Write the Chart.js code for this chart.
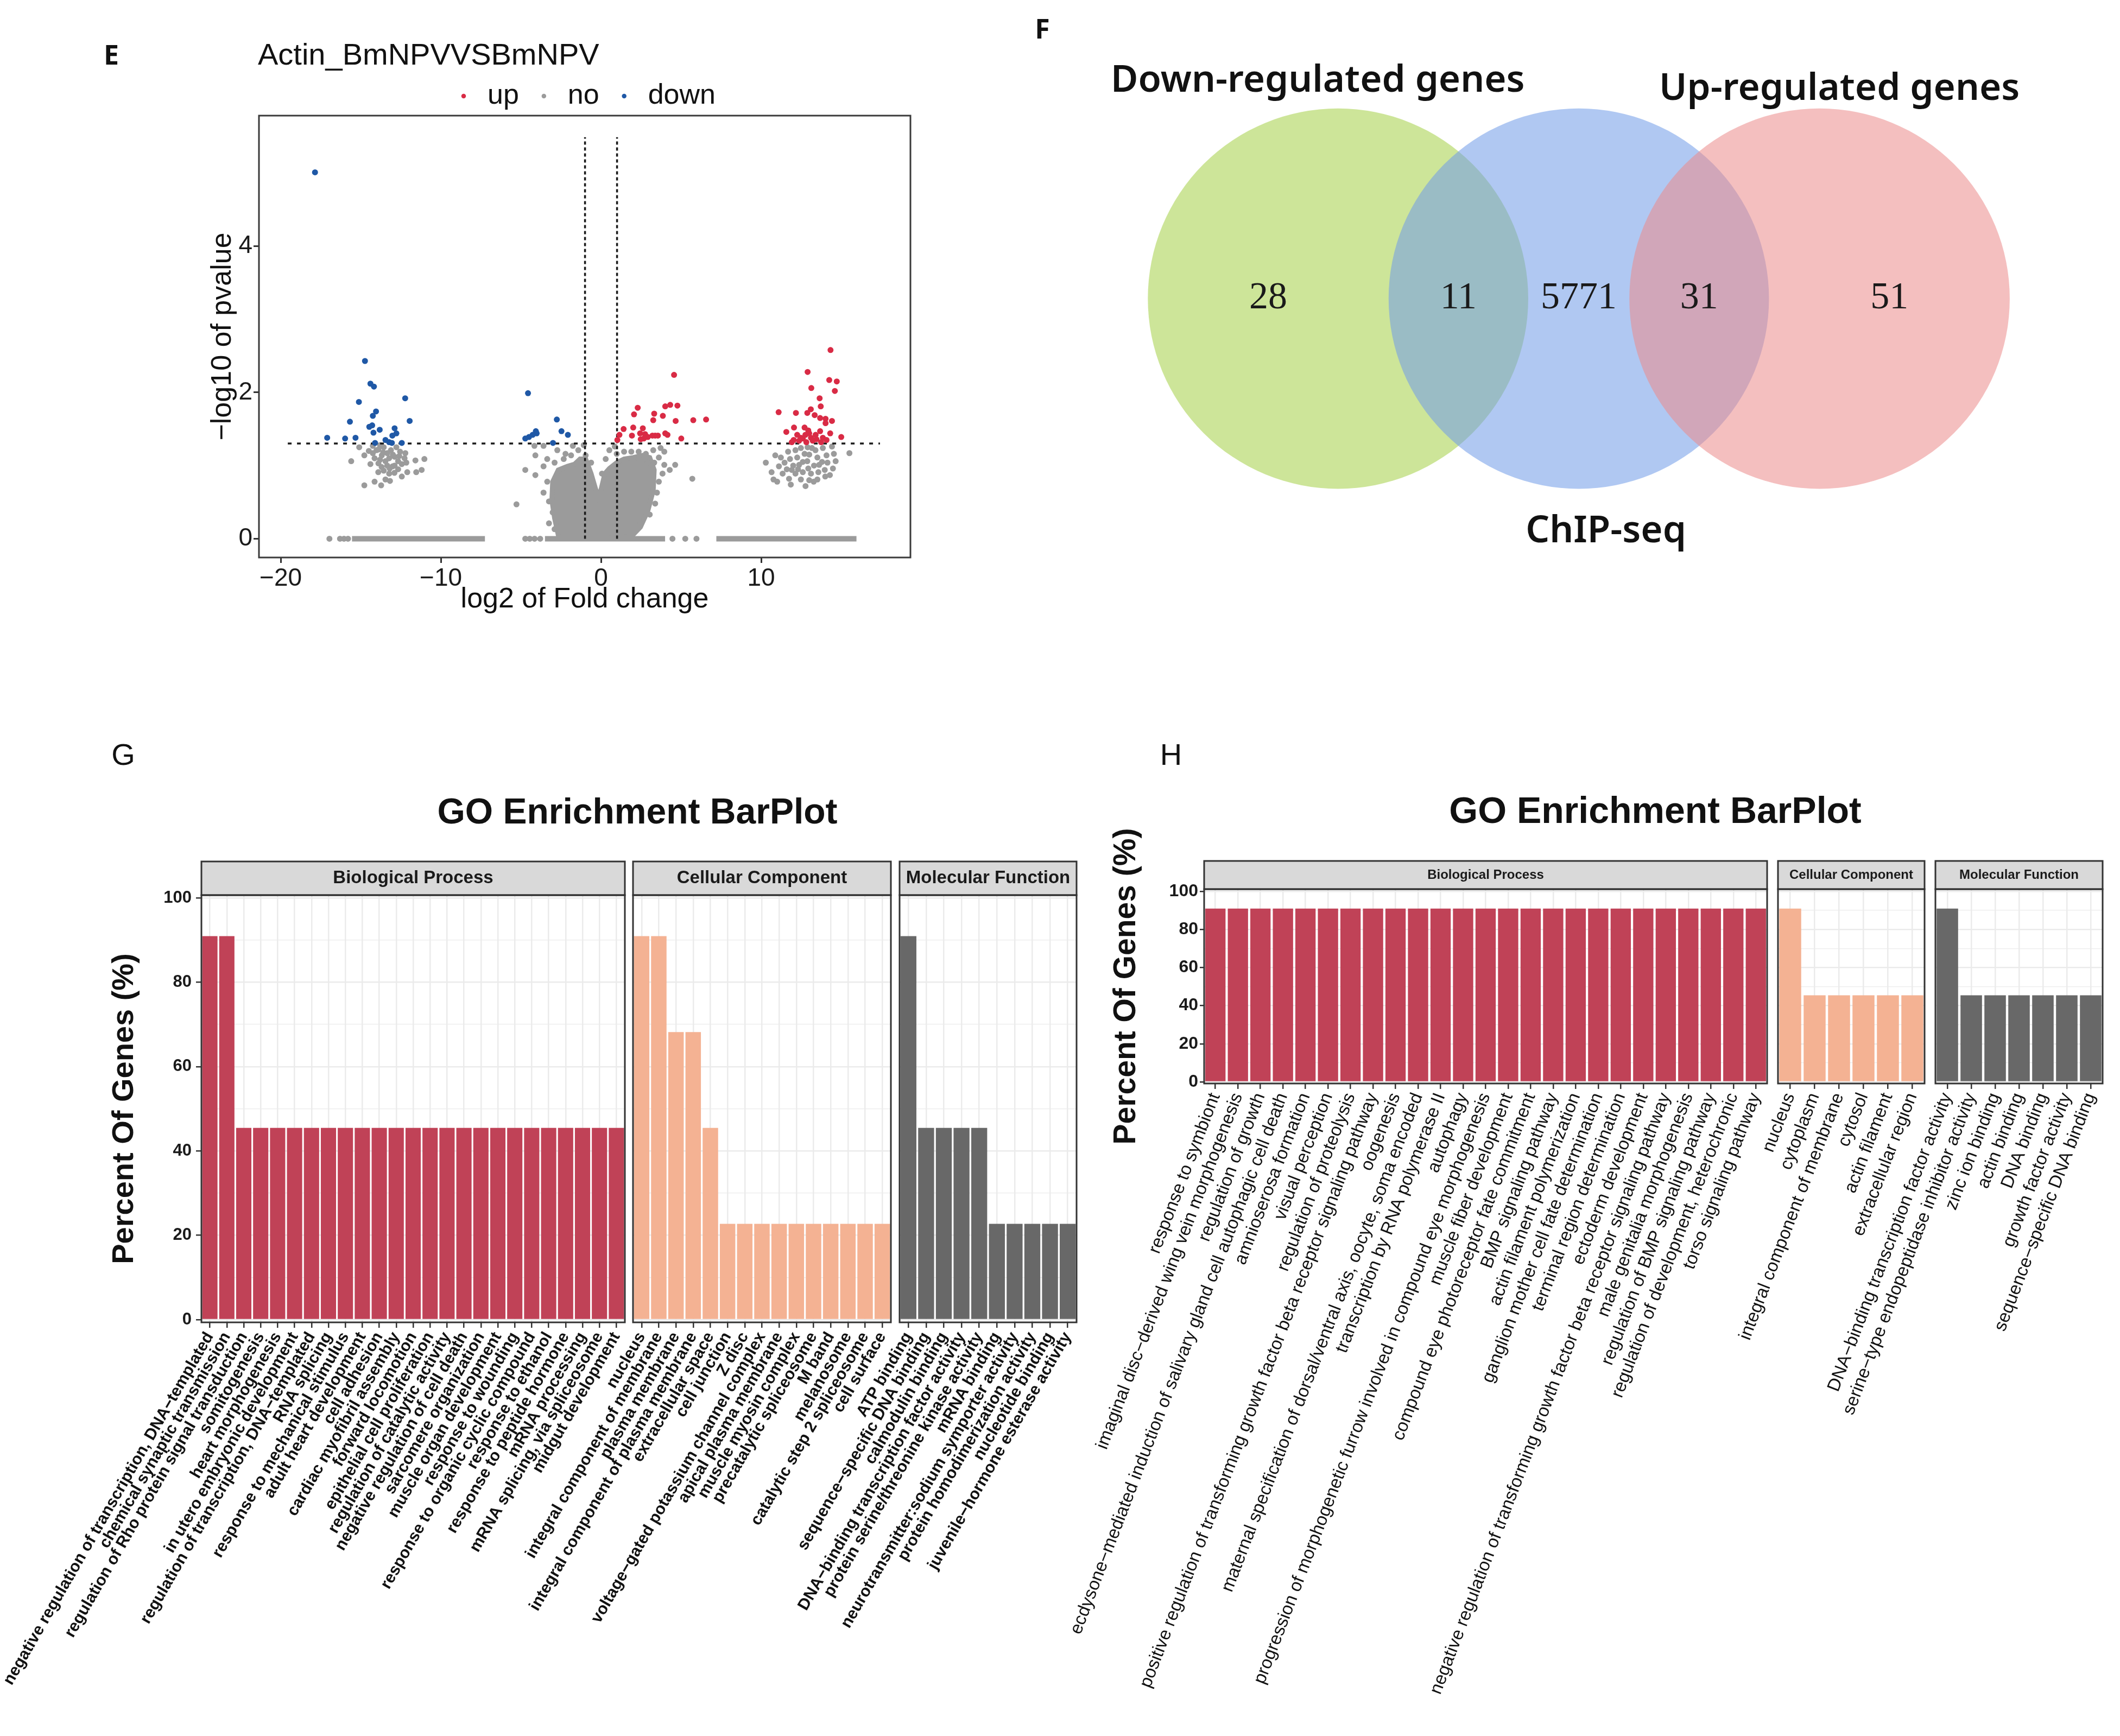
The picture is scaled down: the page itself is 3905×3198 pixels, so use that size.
<!DOCTYPE html>
<html>
<head>
<meta charset="utf-8">
<script src="https://cdn.jsdelivr.net/npm/chart.js@4.4.1/dist/chart.umd.min.js"></script>
<style>
  body { margin: 0; background: #fff; }
  #fig { position: relative; width: 3905px; height: 3198px; overflow: hidden; background: #fff;
         font-family: 'Liberation Sans', Arial, sans-serif; color: #111; }
  canvas { position: absolute; }
  .t { position: absolute; white-space: nowrap; line-height: 1; }
  .c { transform: translate(-50%, -50%); }
  .l { transform: translateY(-50%); }
  .letter { font-family: 'Noto Sans', sans-serif; font-weight: 700; font-size: 50px; }
  .venn { font-family: 'Noto Sans', sans-serif; font-weight: 600; font-size: 69px; color: #111; }
</style>
</head>
<body>
<div id="fig">
  <canvas id="volcano" width="1850" height="1150" style="left:0;top:0"></canvas>
  <canvas id="venn" width="2055" height="1050" style="left:1850px;top:0"></canvas>
  <canvas id="gBp" width="2000" height="1698" style="left:0;top:1500px"></canvas>
  <canvas id="gCc" width="2000" height="1698" style="left:0;top:1500px"></canvas>
  <canvas id="gMf" width="2000" height="1698" style="left:0;top:1500px"></canvas>
  <canvas id="hBp" width="1955" height="1698" style="left:1950px;top:1500px"></canvas>
  <canvas id="hCc" width="1955" height="1698" style="left:1950px;top:1500px"></canvas>
  <canvas id="hMf" width="1955" height="1698" style="left:1950px;top:1500px"></canvas>

  <div class="t c letter" style="left:205px;top:100px">E</div>
  <div class="t c letter" style="left:1920px;top:52px">F</div>
  <div class="t c" style="left:227px;top:1390px;font-size:56px">G</div>
  <div class="t c" style="left:2157px;top:1390px;font-size:56px">H</div>

  <div class="t l" id="volcanoTitle" style="left:475px;top:100px;font-size:56px"></div>
  <div class="t c" style="left:1174px;top:1494px;font-size:66px;font-weight:700">GO Enrichment BarPlot</div>
  <div class="t c" style="left:3049px;top:1492px;font-size:68px;font-weight:700">GO Enrichment BarPlot</div>

  <div class="t l venn" id="vennDown" style="left:2046px;top:142px"></div>
  <div class="t l venn" id="vennUp" style="left:3056px;top:157px"></div>
  <div class="t c venn" id="vennChip" style="left:2958px;top:972px"></div>
</div>

<script>
// ---------------- E: volcano ----------------
const volcanoTitle = 'Actin_BmNPVVSBmNPV';
const pCut = 1.301;   // -log10(0.05)
const fcCut = 1;

const upPoints = [
  [4.56,2.24],[2.29,1.79],[4.01,1.81],[4.32,1.83],[4.77,1.82],[2.06,1.70],[3.32,1.71],[3.86,1.68],
  [3.26,1.62],[4.66,1.61],[5.76,1.62],[6.56,1.63],[1.41,1.50],[2.01,1.52],[2.61,1.51],[1.15,1.42],
  [1.93,1.41],[2.44,1.44],[2.75,1.43],[2.92,1.39],[2.67,1.37],[3.21,1.41],[3.38,1.41],[3.55,1.41],
  [4.01,1.44],[4.15,1.42],[5.01,1.37],[1.02,1.35],[2.48,1.36],
  [14.33,2.58],[12.90,2.28],[14.25,2.17],[14.72,2.15],[13.13,2.06],[14.60,2.02],[13.65,1.92],[13.72,1.81],
  [11.09,1.73],[12.17,1.72],[12.88,1.72],[13.10,1.77],[13.34,1.69],[13.68,1.65],[14.02,1.64],[14.42,1.61],
  [14.02,1.58],[11.57,1.46],[12.05,1.52],[12.71,1.52],[12.94,1.48],[13.68,1.47],[14.31,1.44],[15.00,1.39],
  [12.25,1.42],[12.48,1.38],[12.76,1.42],[13.11,1.38],[13.40,1.42],[13.45,1.36],[13.85,1.38],[14.08,1.35],
  [12.03,1.35],[12.37,1.34],[12.82,1.32],[13.22,1.34],[13.74,1.32],[11.91,1.32],[12.60,1.37],[13.00,1.44]
];

const downPoints = [
  [-17.86,5.01],[-14.74,2.43],[-14.40,2.12],[-14.18,2.08],[-15.12,1.87],[-12.23,1.92],[-14.05,1.74],
  [-14.25,1.68],[-15.68,1.60],[-11.95,1.61],[-14.47,1.53],[-14.29,1.55],[-13.82,1.49],[-14.21,1.45],
  [-12.89,1.51],[-12.78,1.44],[-13.03,1.41],[-17.10,1.38],[-15.98,1.37],[-15.33,1.38],[-13.46,1.35],
  [-13.23,1.32],[-14.11,1.31],[-13.06,1.31],[-12.44,1.31],
  [-4.56,1.99],[-2.76,1.63],[-4.07,1.47],[-4.02,1.44],[-4.27,1.42],[-4.50,1.39],[-4.73,1.37],
  [-2.47,1.47],[-2.07,1.42],[-3.00,1.31]
];

const noPoints = [
  // left cluster
  [-15.10,1.25],[-14.78,1.14],[-15.60,1.06],[-14.25,1.27],[-14.02,1.21],[-13.80,1.28],[-13.57,1.25],
  [-13.35,1.17],[-13.12,1.21],[-12.78,1.25],[-12.55,1.19],[-12.22,1.17],[-14.14,1.10],[-13.80,1.08],
  [-13.46,1.06],[-13.23,1.10],[-12.89,1.12],[-12.67,1.06],[-12.44,1.02],[-12.16,1.04],[-11.59,1.07],
  [-11.03,1.09],[-13.91,0.91],[-13.57,0.93],[-13.23,0.89],[-13.01,0.99],[-12.67,0.95],[-12.44,0.85],
  [-12.10,0.91],[-11.54,0.91],[-11.20,0.94],[-14.78,0.73],[-14.14,0.78],[-13.73,0.73],[-13.46,0.81],
  [-13.18,0.79],[-14.25,1.17],[-13.69,1.14],[-13.35,1.00],[-12.89,1.00],[-12.27,1.10],[-14.50,1.20],
  [-13.90,1.22],[-13.60,1.18],[-13.00,1.15],[-12.60,1.13],[-13.90,1.03],[-13.20,0.96],[-12.90,0.90],
  [-14.40,1.02],[-13.70,0.98],
  // centre, around the dense cloud
  [-4.16,1.27],[-3.59,1.27],[-1.76,1.27],[-1.08,1.28],[-2.73,1.21],[-2.22,1.16],[-1.42,1.21],[-0.96,1.14],
  [-3.36,1.09],[-2.90,1.04],[-3.59,0.99],[-2.33,1.09],[-1.87,1.14],[0.52,1.21],[0.86,1.26],[0.98,1.16],
  [1.44,1.19],[1.89,1.19],[2.35,1.19],[2.80,1.16],[3.26,1.21],[3.72,1.24],[3.95,1.19],[3.61,1.11],
  [3.95,1.01],[4.63,1.01],[4.29,0.94],[3.84,0.89],[3.61,0.78],[3.49,0.63],[3.38,0.48],[3.04,0.33],
  [2.46,0.21],[-3.36,0.78],[-3.59,0.63],[-3.25,0.51],[-3.02,0.36],[-3.25,0.21],[-2.90,0.13],[-4.10,1.14],
  [-4.73,0.94],[-4.10,0.87],[-5.28,0.47],[5.70,0.82],[0.06,0.89],[-0.62,1.04],[0.29,1.09],[2.35,1.09],
  [2.92,1.04],[3.32,1.04],
  // right cluster
  [10.29,1.04],[10.88,1.14],[11.11,0.99],[10.65,0.91],[10.77,0.81],[11.23,1.11],[11.46,1.04],[11.34,0.89],
  [11.68,1.19],[11.80,1.09],[11.91,0.94],[11.85,0.74],[12.14,1.21],[12.25,1.11],[12.37,1.01],[12.14,0.89],
  [12.48,0.81],[12.77,0.72],[12.71,1.16],[12.88,1.06],[12.94,0.96],[13.11,0.89],[13.28,0.78],[13.39,1.21],
  [13.51,1.11],[13.62,1.01],[13.57,0.91],[13.85,1.24],[14.08,1.14],[14.14,1.04],[13.97,0.94],[14.42,1.26],
  [14.54,1.16],[14.65,1.06],[14.48,0.96],[14.29,0.87],[15.51,1.17],[13.51,0.81],[12.60,0.91],[11.74,0.82],
  [11.00,0.78],[13.17,1.24],[12.48,1.24],[12.00,1.00],[12.60,1.05],[13.00,1.15],[13.30,1.00],[13.80,1.05],
  [12.30,0.95],[13.00,0.80],[14.00,0.85],[11.60,0.95],[12.90,1.25],
  // isolated points on the p = 1 row
  [-16.96,0],[-16.30,0],[-16.05,0],[-15.80,0],[-4.73,0],[-4.45,0],[-4.15,0],[-3.80,0],[4.46,0],[5.26,0],[5.96,0]
];

// dense stretches of overlapping points at -log10(p) = 0
const zeroBands = [[-15.55, -7.25], [-3.50, 4.00], [7.20, 15.95]];

// outline of the solid grey V-shaped mass around log2FC = 0
const cloudOutline = [
  [-2.62,0],[-2.90,0.28],[-3.07,0.53],[-3.02,0.78],[-2.67,0.94],[-2.10,0.99],[-1.65,1.02],[-1.31,1.09],
  [-0.96,1.09],[-0.62,0.89],[-0.34,0.68],[-0.16,0.56],[0.01,0.68],[0.24,0.89],[0.52,0.96],[0.98,1.04],
  [1.44,1.09],[2.01,1.11],[2.58,1.14],[3.04,1.11],[3.32,0.94],[3.26,0.66],[2.92,0.38],[2.46,0.16],
  [1.89,0.03],[-0.16,0]
];

// ---------------- F: venn ----------------
const vennSets = ['Down-regulated genes', 'ChIP-seq', 'Up-regulated genes'];
const vennCenters = [-1, 0, 1];
const vennRadius = 0.79;
const vennCounts = [28, 11, 5771, 31, 51];   // down only, down∩chip, chip only, chip∩up, up only

// ---------------- G: GO barplot ----------------
const gBpTerms = [
  'negative regulation of transcription, DNA−templated', 'chemical synaptic transmission',
  'regulation of Rho protein signal transduction', 'somitogenesis', 'heart morphogenesis',
  'in utero embryonic development', 'regulation of transcription, DNA−templated', 'RNA splicing',
  'response to mechanical stimulus', 'adult heart development', 'cell adhesion', 'cardiac myofibril assembly',
  'forward locomotion', 'epithelial cell proliferation', 'regulation of catalytic activity',
  'negative regulation of cell death', 'sarcomere organization', 'muscle organ development',
  'response to wounding', 'response to organic cyclic compound', 'response to ethanol',
  'response to peptide hormone', 'mRNA processing', 'mRNA splicing, via spliceosome', 'midgut development'
];
const gBpPct = [90.91, 90.91, 45.45, 45.45, 45.45, 45.45, 45.45, 45.45, 45.45, 45.45, 45.45, 45.45, 45.45,
  45.45, 45.45, 45.45, 45.45, 45.45, 45.45, 45.45, 45.45, 45.45, 45.45, 45.45, 45.45];

const gCcTerms = [
  'nucleus', 'integral component of membrane', 'plasma membrane', 'integral component of plasma membrane',
  'extracellular space', 'cell junction', 'Z disc', 'voltage−gated potassium channel complex',
  'apical plasma membrane', 'muscle myosin complex', 'precatalytic spliceosome', 'M band', 'melanosome',
  'catalytic step 2 spliceosome', 'cell surface'
];
const gCcPct = [90.91, 90.91, 68.18, 68.18, 45.45, 22.73, 22.73, 22.73, 22.73, 22.73, 22.73, 22.73, 22.73, 22.73, 22.73];

const gMfTerms = [
  'ATP binding', 'sequence−specific DNA binding', 'calmodulin binding', 'DNA−binding transcription factor activity',
  'protein serine/threonine kinase activity', 'mRNA binding', 'neurotransmitter:sodium symporter activity',
  'protein homodimerization activity', 'nucleotide binding', 'juvenile−hormone esterase activity'
];
const gMfPct = [90.91, 45.45, 45.45, 45.45, 45.45, 22.73, 22.73, 22.73, 22.73, 22.73];

// ---------------- H: GO barplot ----------------
const hBpTerms = [
  'response to symbiont', 'imaginal disc−derived wing vein morphogenesis', 'regulation of growth',
  'ecdysone−mediated induction of salivary gland cell autophagic cell death', 'amnioserosa formation',
  'visual perception', 'regulation of proteolysis',
  'positive regulation of transforming growth factor beta receptor signaling pathway', 'oogenesis',
  'maternal specification of dorsal/ventral axis, oocyte, soma encoded', 'transcription by RNA polymerase II',
  'autophagy', 'progression of morphogenetic furrow involved in compound eye morphogenesis',
  'muscle fiber development', 'compound eye photoreceptor fate commitment', 'BMP signaling pathway',
  'actin filament polymerization', 'ganglion mother cell fate determination', 'terminal region determination',
  'ectoderm development', 'negative regulation of transforming growth factor beta receptor signaling pathway',
  'male genitalia morphogenesis', 'regulation of BMP signaling pathway', 'regulation of development, heterochronic',
  'torso signaling pathway'
];
const hBpPct = [90.91, 90.91, 90.91, 90.91, 90.91, 90.91, 90.91, 90.91, 90.91, 90.91, 90.91, 90.91, 90.91,
  90.91, 90.91, 90.91, 90.91, 90.91, 90.91, 90.91, 90.91, 90.91, 90.91, 90.91, 90.91];

const hCcTerms = ['nucleus', 'cytoplasm', 'integral component of membrane', 'cytosol', 'actin filament', 'extracellular region'];
const hCcPct = [90.91, 45.45, 45.45, 45.45, 45.45, 45.45];

const hMfTerms = [
  'DNA−binding transcription factor activity', 'serine−type endopeptidase inhibitor activity', 'zinc ion binding',
  'actin binding', 'DNA binding', 'growth factor activity', 'sequence−specific DNA binding'
];
const hMfPct = [90.91, 45.45, 45.45, 45.45, 45.45, 45.45, 45.45];

// ============================================================
Chart.defaults.font.family = "'Liberation Sans', Arial, sans-serif";
Chart.defaults.color = '#111';

const toXY = pts => pts.map(p => ({ x: p[0], y: p[1] }));
const minus = v => String(v).replace('-', '\u2212');

// panel border + optional grey facet strip (ggplot theme_bw look)
const frameBorder = {
  id: 'frameBorder',
  afterDraw(chart, args, o) {
    const { ctx, chartArea: a } = chart;
    ctx.save();
    ctx.strokeStyle = o.color;
    ctx.lineWidth = o.width;
    if (o.strip) {
      ctx.fillStyle = '#d9d9d9';
      ctx.fillRect(a.left, a.top - o.stripHeight, a.right - a.left, o.stripHeight);
      ctx.strokeRect(a.left, a.top - o.stripHeight, a.right - a.left, o.stripHeight);
      ctx.fillStyle = '#1a1a1a';
      ctx.font = o.stripFont;
      ctx.textAlign = 'center';
      ctx.textBaseline = 'middle';
      ctx.fillText(o.strip, (a.left + a.right) / 2, a.top - o.stripHeight / 2);
    }
    ctx.strokeRect(a.left, a.top, a.right - a.left, a.bottom - a.top);
    ctx.restore();
  }
};

// --- volcano ---
document.getElementById('volcanoTitle').textContent = volcanoTitle;

const lineDs = (pts, dash) => ({
  data: toXY(pts), showLine: true, pointRadius: 0, borderColor: '#1a1a1a', borderWidth: 3.5,
  borderDash: dash, fill: false
});

const volcanoDatasets = [
  { label: 'up', data: toXY(upPoints), backgroundColor: '#d92b45', borderWidth: 0, pointRadius: 5.5, order: 0 },
  { label: 'no', data: toXY(noPoints), backgroundColor: '#9b9b9b', borderWidth: 0, pointRadius: 5.5, order: 5 },
  { label: 'down', data: toXY(downPoints), backgroundColor: '#1f58a6', borderWidth: 0, pointRadius: 5.5, order: 1 },
  Object.assign(lineDs([[-19.56, pCut], [17.42, pCut]], [7, 10]), { order: 2 }),
  Object.assign(lineDs([[-fcCut, 0], [-fcCut, 5.49]], [6, 5]), { order: 3 }),
  Object.assign(lineDs([[fcCut, 0], [fcCut, 5.49]], [6, 5]), { order: 4 }),
  { data: toXY(cloudOutline), showLine: true, fill: 'shape', backgroundColor: '#9b9b9b', borderColor: '#9b9b9b',
    borderWidth: 9, pointRadius: 0, order: 7 }
];
zeroBands.forEach(b => volcanoDatasets.push({
  data: toXY([[b[0], 0], [b[1], 0]]), showLine: true, pointRadius: 0, borderColor: '#9b9b9b',
  borderWidth: 10, fill: false, order: 6
}));

new Chart(document.getElementById('volcano'), {
  type: 'scatter',
  data: { datasets: volcanoDatasets },
  plugins: [frameBorder],
  options: {
    responsive: false, animation: false, devicePixelRatio: 1, events: [],
    layout: { padding: { left: 379, right: 173, top: 123, bottom: 14 } },
    plugins: {
      tooltip: { enabled: false },
      frameBorder: { color: '#3a3a3a', width: 3 },
      legend: {
        position: 'top', fullSize: false,
        labels: {
          filter: item => item.datasetIndex < 3,
          sort: (a, b) => a.datasetIndex - b.datasetIndex,
          usePointStyle: true, pointStyle: 'circle', boxWidth: 36, boxHeight: 6, padding: 28,
          font: { size: 52 }, color: '#111'
        }
      }
    },
    scales: {
      x: {
        type: 'linear', min: -21.36, max: 19.32,
        border: { display: false },
        grid: { drawOnChartArea: false, tickLength: 10, tickColor: '#333', tickWidth: 3 },
        ticks: { stepSize: 10, includeBounds: false, padding: 2, font: { size: 46 }, color: '#1a1a1a', callback: minus },
        title: { display: true, text: 'log2 of Fold change', font: { size: 52 }, color: '#111', padding: 0 },
        afterFit: s => { s.height = 109; s.paddingLeft = 0; s.paddingRight = 0; }
      },
      y: {
        type: 'linear', min: -0.257, max: 5.785,
        border: { display: false },
        grid: { drawOnChartArea: false, tickLength: 10, tickColor: '#333', tickWidth: 3 },
        ticks: { stepSize: 2, includeBounds: false, padding: 2, font: { size: 46 }, color: '#1a1a1a', callback: minus },
        title: { display: true, text: '\u2212log10 of pvalue', font: { size: 52 }, color: '#111', padding: 0 },
        afterFit: s => { s.width = 98; s.paddingTop = 0; s.paddingBottom = 0; }
      }
    }
  }
});

// --- venn ---
document.getElementById('vennDown').textContent = vennSets[0];
document.getElementById('vennChip').textContent = vennSets[1];
document.getElementById('vennUp').textContent = vennSets[2];

const vennFill = ['rgba(166,209,73,0.56)', 'rgba(114,157,232,0.56)', 'rgba(235,141,141,0.56)'];

// circles are drawn at the dataset's own point elements, radius taken from the x scale
const vennDraw = {
  id: 'vennDraw',
  beforeDatasetsDraw(chart) {
    const { ctx, scales: { x } } = chart;
    const rPx = Math.abs(x.getPixelForValue(vennRadius) - x.getPixelForValue(0));
    ctx.save();
    chart.getDatasetMeta(0).data.forEach((pt, i) => {
      ctx.beginPath();
      ctx.arc(pt.x, pt.y, rPx, 0, Math.PI * 2);
      ctx.fillStyle = vennFill[i];
      ctx.fill();
    });
    ctx.restore();
  },
  afterDatasetsDraw(chart) {
    const { ctx, scales: { x, y } } = chart;
    const [a, b, c] = vennCenters, r = vennRadius;
    // midpoints of the five regions along the line through the centres
    const mids = [(a - r + b - r) / 2, (b - r + a + r) / 2, (a + r + c - r) / 2, (c - r + b + r) / 2, (b + r + c + r) / 2];
    ctx.save();
    ctx.fillStyle = '#1a1a1a';
    ctx.font = "70px 'Liberation Serif', 'Times New Roman', serif";
    ctx.textAlign = 'center';
    ctx.textBaseline = 'middle';
    mids.forEach((m, i) => ctx.fillText(String(vennCounts[i]), x.getPixelForValue(m), y.getPixelForValue(0)));
    ctx.restore();
  }
};

new Chart(document.getElementById('venn'), {
  type: 'scatter',
  data: {
    datasets: [{ data: vennCenters.map(v => ({ x: v, y: 0 })), pointRadius: 0, borderWidth: 0 }]
  },
  plugins: [vennDraw],
  options: {
    responsive: false, animation: false, devicePixelRatio: 1, events: [],
    layout: { padding: 0 },
    plugins: { legend: { display: false }, tooltip: { enabled: false } },
    scales: {
      x: { type: 'linear', display: false, min: -2.386, max: 2.248 },
      y: { type: 'linear', display: false, min: -1.127, max: 1.240 }
    }
  }
});

// --- GO facets ---
function facet(id, f) {
  const cv = document.getElementById(id);
  const W = cv.width, H = cv.height;
  const left = f.left - f.ox, right = f.right - f.ox, top = f.top - f.oy, bottom = f.bottom - f.oy;
  const yW = f.showY ? f.yAxisWidth : 0;
  const major = c => c.tick && Math.abs(c.tick.value % 20) < 1e-6;
  return new Chart(cv, {
    type: 'bar',
    data: {
      labels: f.labels,
      datasets: [{ data: f.values, backgroundColor: f.color, borderWidth: 0, categoryPercentage: 0.9, barPercentage: 1 }]
    },
    plugins: [frameBorder],
    options: {
      responsive: false, animation: false, devicePixelRatio: 1, events: [],
      layout: { padding: { left: left - yW, right: W - right, top: top, bottom: 0 } },
      plugins: {
        legend: { display: false }, tooltip: { enabled: false },
        frameBorder: { color: '#333', width: 3, strip: f.strip, stripHeight: f.stripHeight, stripFont: f.stripFont }
      },
      scales: {
        x: {
          border: { display: false },
          grid: { color: '#ebebeb', lineWidth: 2.5, offset: false, tickColor: '#333', tickLength: 10, tickWidth: 2.5 },
          ticks: { autoSkip: false, minRotation: f.rot, maxRotation: f.rot, padding: 2, color: '#111', font: f.xFont },
          afterFit: s => { s.height = H - bottom; s.paddingLeft = 0; s.paddingRight = 0; }
        },
        y: {
          min: f.yMin, max: f.yMax,
          border: { display: false },
          grid: {
            color: '#ebebeb',
            lineWidth: c => major(c) ? 2.5 : 1.2,
            drawTicks: f.showY, tickLength: f.tickLength,
            tickColor: c => major(c) ? '#333' : 'rgba(0,0,0,0)', tickWidth: 2.5
          },
          ticks: {
            display: f.showY, autoSkip: false, stepSize: 10, includeBounds: false, padding: f.tickPad,
            color: '#1a1a1a', font: f.yFont, callback: v => (Math.abs(v % 20) < 1e-6 ? v : '')
          },
          title: { display: f.showY, text: 'Percent Of Genes (%)', color: '#111', font: f.yTitleFont, padding: 0 },
          afterFit: s => { s.width = yW; s.paddingTop = 0; s.paddingBottom = 0; }
        }
      }
    }
  });
}

const gBase = {
  ox: 0, oy: 1500, top: 1649, bottom: 2436, yMin: -0.64, yMax: 100.64, rot: 60,
  xFont: { size: 30, weight: 'bold' }, yFont: { size: 31, weight: 'bold' },
  yTitleFont: { size: 56, weight: 'bold' }, yAxisWidth: 175, tickLength: 10, tickPad: 8,
  stripHeight: 62, stripFont: "bold 33px 'Liberation Sans', Arial, sans-serif"
};
facet('gBp', Object.assign({}, gBase, { left: 371, right: 1151, showY: true, labels: gBpTerms, values: gBpPct, color: '#c04257', strip: 'Biological Process' }));
facet('gCc', Object.assign({}, gBase, { left: 1166, right: 1641, showY: false, labels: gCcTerms, values: gCcPct, color: '#f4b293', strip: 'Cellular Component' }));
facet('gMf', Object.assign({}, gBase, { left: 1657, right: 1983, showY: false, labels: gMfTerms, values: gMfPct, color: '#686868', strip: 'Molecular Function' }));

const hBase = {
  ox: 1950, oy: 1500, top: 1638, bottom: 1996, yMin: -0.85, yMax: 101.1, rot: 69,
  xFont: { size: 33 }, yFont: { size: 32, weight: 'bold' },
  yTitleFont: { size: 57, weight: 'bold' }, yAxisWidth: 177, tickLength: 8, tickPad: 3,
  stripHeight: 52, stripFont: "bold 24px 'Liberation Sans', Arial, sans-serif"
};
facet('hBp', Object.assign({}, hBase, { left: 2218, right: 3255, showY: true, labels: hBpTerms, values: hBpPct, color: '#c04257', strip: 'Biological Process' }));
facet('hCc', Object.assign({}, hBase, { left: 3275, right: 3545, showY: false, labels: hCcTerms, values: hCcPct, color: '#f4b293', strip: 'Cellular Component' }));
facet('hMf', Object.assign({}, hBase, { left: 3565, right: 3873, showY: false, labels: hMfTerms, values: hMfPct, color: '#686868', strip: 'Molecular Function' }));
</script>
</body>
</html>
